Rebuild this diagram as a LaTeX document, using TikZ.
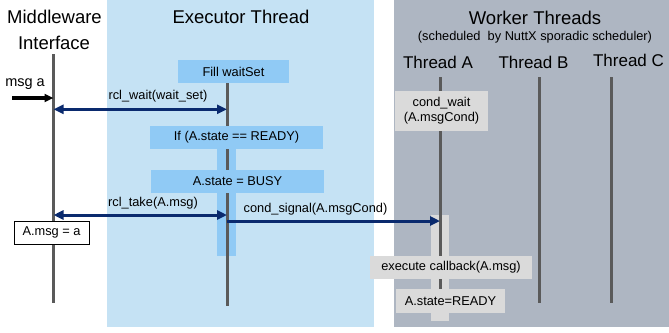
\documentclass[tikz,border=0pt]{standalone}
\usepackage{fontspec}
\setmainfont{Liberation Sans}
\usetikzlibrary{arrows.meta}
\definecolor{execbg}{HTML}{C5E2F4}
\definecolor{workbg}{HTML}{AEB6C2}
\definecolor{bluebox}{HTML}{90CAF5}
\definecolor{graybox}{HTML}{DADADA}
\definecolor{lifecol}{HTML}{5A5A5A}
\definecolor{navy}{HTML}{0A2A6E}
\tikzset{
  headfont/.style={font=\fontsize{18.5}{21}\selectfont},
  threadfont/.style={font=\fontsize{17}{19}\selectfont},
  smallfont/.style={font=\fontsize{12.8}{15}\selectfont},
  lifeline/.style={draw=lifecol, line width=3pt},
  bluestep/.style={fill=bluebox, inner sep=0pt, smallfont},
  graystep/.style={fill=graybox, inner sep=0pt, smallfont, align=center},
  msgarrow/.style={draw=navy, line width=3pt, -{Triangle[length=10pt,width=9pt]}},
  msgarrow2/.style={draw=navy, line width=3pt, {Triangle[length=10pt,width=9pt]}-{Triangle[length=10pt,width=9pt]}},
  lbl/.style={smallfont, anchor=base, inner sep=0pt},
}
\begin{document}
\begin{tikzpicture}[x=1pt,y=-1pt]
\useasboundingbox (0,0) rectangle (669,332);
% panels
\fill[execbg] (107,0) rectangle (374,327);
\fill[workbg] (394,0) rectangle (669,327);
% headings
\node[headfont] (hmw1) at (54.5,17) {Middleware};
\node[headfont] (hmw2) at (54,43) {Interface};
\node[headfont] (hex) at (241,17) {Executor Thread};
\node[headfont] (hwk) at (535,17.5) {Worker Threads};
\node[smallfont] (hsch) at (535,37) {(scheduled\ \ by NuttX sporadic scheduler)};
\node[threadfont] (tha) at (438,62) {Thread A};
\node[threadfont] (thb) at (533.5,62) {Thread B};
\node[threadfont] (thc) at (628.5,60.5) {Thread C};
% activation bars
\fill[bluebox] (217,149) rectangle (236,256);
\fill[graybox] (431,215) rectangle (449,321);
% lifeline coordinates
\coordinate (mwtop) at (53.5,54);
\coordinate (mwbot) at (53.5,303);
\coordinate (extop) at (227,83);
\coordinate (exbot) at (227,306);
\coordinate (atop) at (440,77);
\coordinate (abot) at (440,300);
\coordinate (btop) at (539,77);
\coordinate (bbot) at (539,303);
\coordinate (ctop) at (611,77);
\coordinate (cbot) at (611,303);
\draw[lifeline] (mwtop) -- (mwbot);
\draw[lifeline] (extop) -- (exbot);
\draw[lifeline] (atop) -- (abot);
\draw[lifeline] (btop) -- (bbot);
\draw[lifeline] (ctop) -- (cbot);
% boxes
\node[bluestep, minimum width=111pt, minimum height=23pt] (fill) at (233.5,71.5) {Fill waitSet};
\node[bluestep, minimum width=173pt, minimum height=23pt] (ifb) at (236.5,137.5) {If (A.state == READY)};
\node[bluestep, minimum width=173pt, minimum height=23pt] (busy) at (237.5,181.5) {A.state = BUSY};
\node[fill=white, draw=black, line width=0.8pt, inner sep=0pt, smallfont, minimum width=75pt, minimum height=23pt] (amsg) at (51.5,232.5) {A.msg = a};
\node[graystep, minimum width=93pt, minimum height=40pt] (cwait) at (441.5,111) {cond\_wait\\(A.msgCond)};
\node[graystep, minimum width=162pt, minimum height=23pt] (exec) at (451,267.5) {execute callback(A.msg)};
\node[graystep, minimum width=109pt, minimum height=24pt] (ready) at (450.5,301) {A.state=READY};
% message coordinates
\coordinate (msgsrc) at (12,98);
\coordinate (msgdst) at (53.5,98);
\coordinate (mwwait) at (53.5,109.3);
\coordinate (exwait) at (227,109.3);
\coordinate (mwtake) at (53.5,215);
\coordinate (extake) at (227,215);
\coordinate (exsig) at (227,221);
\coordinate (asig) at (440,221);
% arrows
\draw[black, line width=3.3pt, -{Triangle[length=9pt,width=8pt]}] (msgsrc) -- (msgdst);
\node[font=\fontsize{14.5}{17}\selectfont, anchor=base, inner sep=0pt] (msglbl) at (25,86.5) {msg a};
\draw[msgarrow2] (mwwait) -- (exwait);
\node[lbl] (wlbl) at (158,99.5) {rcl\_wait(wait\_set)};
\draw[msgarrow2] (mwtake) -- (extake);
\node[lbl] (tlbl) at (153,206.5) {rcl\_take(A.msg)};
\draw[msgarrow] (exsig) -- (asig);
\node[lbl] (slbl) at (315.5,212) {cond\_signal(A.msgCond)};
\end{tikzpicture}
\end{document}
